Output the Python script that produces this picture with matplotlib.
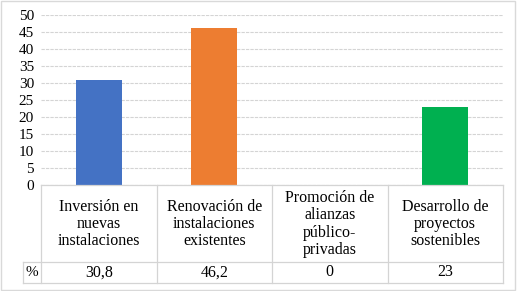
import matplotlib.pyplot as plt
from matplotlib.patches import Rectangle

categories = ["Inversión en\nnuevas\ninstalaciones",
              "Renovación de\ninstalaciones\nexistentes",
              "Promoción de\nalianzas\npúblico-\nprivadas",
              "Desarrollo de\nproyectos\nsostenibles"]
values = [30.8, 46.2, 0, 23]
value_labels = ["30,8", "46,2", "0", "23"]
colors = ["#4472C4", "#ED7D31", "#A5A5A5", "#00B050"]
yticks = list(range(0, 55, 5))

plt.rcParams['font.family'] = ['Liberation Serif', 'DejaVu Serif']
W, H = 517, 291
fig = plt.figure(figsize=(W / 100, H / 100), dpi=100)

line_c = "#d4d4d4"

# pixel helpers
def fx(px):
    return px / W

def fy(py):
    return 1 - py / H

left, right, top, base = 41, 503, 15, 185
ax = fig.add_axes([fx(left), fy(base), fx(right - left), fy(top) - fy(base)])
x = range(len(values))
ax.bar(x, values, width=0.4, color=colors, zorder=3)
ax.set_xlim(-0.5, 3.5)
ax.set_ylim(0, 50)
ax.set_yticks(yticks)
ax.tick_params(axis='y', length=0, labelsize=11, pad=5)
ax.set_xticks([])
ax.grid(axis='y', color=line_c, linewidth=0.8, linestyle=(0, (3, 1)), zorder=0)
for s in ax.spines.values():
    s.set_visible(False)

# data table below the axis
tb = fig.add_axes([fx(23), fy(283), fx(right - 23), fy(base) - fy(283)])
unit = (right - left) / 4
tb.set_xlim(-0.5 - (left - 23) / unit, 3.5)
tb.set_ylim(283 - base, 0)
tb.axis('off')
row1 = 262 - base
row2 = 283 - base
lk = dict(color=line_c, linewidth=0.9, clip_on=False)
tb.plot([-0.5, 3.5], [0, 0], **lk)
for b in [-0.5, 0.5, 1.5, 2.5, 3.5]:
    tb.plot([b, b], [0, row2], **lk)
x0 = -0.5 - (left - 23) / unit
tb.plot([x0, 3.5], [row1, row1], **lk)
tb.plot([x0, 3.5], [row2, row2], **lk)
tb.plot([x0, x0], [row1, row2], **lk)
for i, (c, v) in enumerate(zip(categories, value_labels)):
    tb.text(i, row1 / 2 + 0.5, c, ha='center', va='center', fontsize=11.5,
            linespacing=1.12)
    tb.text(i, (row1 + row2) / 2, v, ha='center', va='center', fontsize=11.5)
tb.text((x0 - 0.5) / 2, (row1 + row2) / 2, "%", ha='center', va='center',
        fontsize=11)

fig.patches.append(Rectangle((0.002, 0.003), 0.995, 0.994, transform=fig.transFigure,
                             fill=False, edgecolor="#d9d9d9", linewidth=1))

fig.savefig("out.png", dpi=100, facecolor="white")
